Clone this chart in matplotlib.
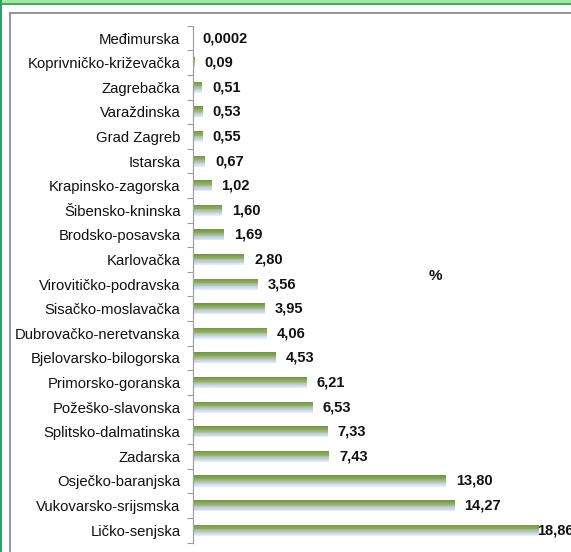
import matplotlib
matplotlib.use('Agg')
import matplotlib.pyplot as plt
import numpy as np
from matplotlib.colors import LinearSegmentedColormap
from matplotlib.lines import Line2D
from matplotlib.patches import Rectangle

plt.rcParams['font.family'] = ['Liberation Sans', 'DejaVu Sans']

# Data (top to bottom as shown)
counties = ['Međimurska', 'Koprivničko-križevačka', 'Zagrebačka', 'Varaždinska',
            'Grad Zagreb', 'Istarska', 'Krapinsko-zagorska', 'Šibensko-kninska',
            'Brodsko-posavska', 'Karlovačka', 'Virovitičko-podravska',
            'Sisačko-moslavačka', 'Dubrovačko-neretvanska', 'Bjelovarsko-bilogorska',
            'Primorsko-goranska', 'Požeško-slavonska', 'Splitsko-dalmatinska',
            'Zadarska', 'Osječko-baranjska', 'Vukovarsko-srijsmska', 'Ličko-senjska']
values = [0.0002, 0.09, 0.51, 0.53, 0.55, 0.67, 1.02, 1.60, 1.69, 2.80, 3.56,
          3.95, 4.06, 4.53, 6.21, 6.53, 7.33, 7.43, 13.80, 14.27, 18.86]
labels = ['0,0002', '0,09', '0,51', '0,53', '0,55', '0,67', '1,02', '1,60', '1,69',
          '2,80', '3,56', '3,95', '4,06', '4,53', '6,21', '6,53', '7,33', '7,43',
          '13,80', '14,27', '18,86']

fig = plt.figure(figsize=(5.71, 5.52), dpi=100)
W, H = 571, 552

# frame decorations
fig.patches.append(Rectangle((0, 1 - 3.5 / H), 1, 3.5 / H, transform=fig.transFigure,
                             facecolor='#a6e3a6', edgecolor='none'))
fig.patches.append(Rectangle((0, 1 - 5 / H), 1, 1.6 / H, transform=fig.transFigure,
                             facecolor='#3cae62', edgecolor='none'))
fig.patches.append(Rectangle((0, 0), 2.2 / W, 1, transform=fig.transFigure,
                             facecolor='#30a068', edgecolor='none'))
fig.lines.append(Line2D([9.5 / W, 9.5 / W], [0, 1 - 12.5 / H], transform=fig.transFigure,
                        color='#8c8c8c', lw=1.3))
fig.lines.append(Line2D([9.5 / W, 1], [1 - 12.5 / H, 1 - 12.5 / H], transform=fig.transFigure,
                        color='#8c8c8c', lw=1.3))

ax = fig.add_axes([193 / W, 1 - 542.5 / H, 1 - 193 / W, 516.8 / H])

y = np.arange(len(counties))
bar_h = 0.45
n_strips = 14
cmap = LinearSegmentedColormap.from_list(
    'bar', [(0.0, '#759548'), (0.35, '#8fae66'), (0.6, '#b7c9b0'),
            (0.8, '#c9d7ee'), (1.0, '#e3ebf7')])
for i in range(n_strips):
    off = -bar_h / 2 + (i + 0.5) * bar_h / n_strips
    ax.barh(y + off, values, height=bar_h / n_strips * 1.02,
            color=cmap(i / (n_strips - 1)), edgecolor='none')

ax.set_ylim(len(counties) - 0.5, -0.5)
xmax = 20.6
ax.set_xlim(0, xmax)

for yi, v, lab in zip(y, values, labels):
    if v > 18:
        ax.text(v - 0.1, yi, lab, ha='left', va='center', fontsize=10.5,
                fontweight='bold', color='#111111')
    else:
        ax.annotate(lab, (v, yi), xytext=(7, 0), textcoords='offset points',
                    ha='left', va='center', fontsize=10.5, fontweight='bold',
                    color='#111111')

ax.set_yticks(y)
ax.set_yticklabels(counties, fontsize=10.7, color='#111111')
ax.set_yticks(np.arange(len(counties) + 1) - 0.5, minor=True)
ax.tick_params(axis='y', which='major', length=0, pad=9)
ax.tick_params(axis='y', which='minor', length=4, color='#a0a0a0', width=0.8)
ax.set_xticks([])
for s in ['top', 'right', 'bottom']:
    ax.spines[s].set_visible(False)
ax.spines['left'].set_color('#a0a0a0')
ax.spines['left'].set_linewidth(0.9)

fig.text(435 / W, 1 - 276 / H, '%', ha='center', va='center', fontsize=11,
         fontweight='bold', color='#111111')

fig.savefig('out.png', dpi=100)
